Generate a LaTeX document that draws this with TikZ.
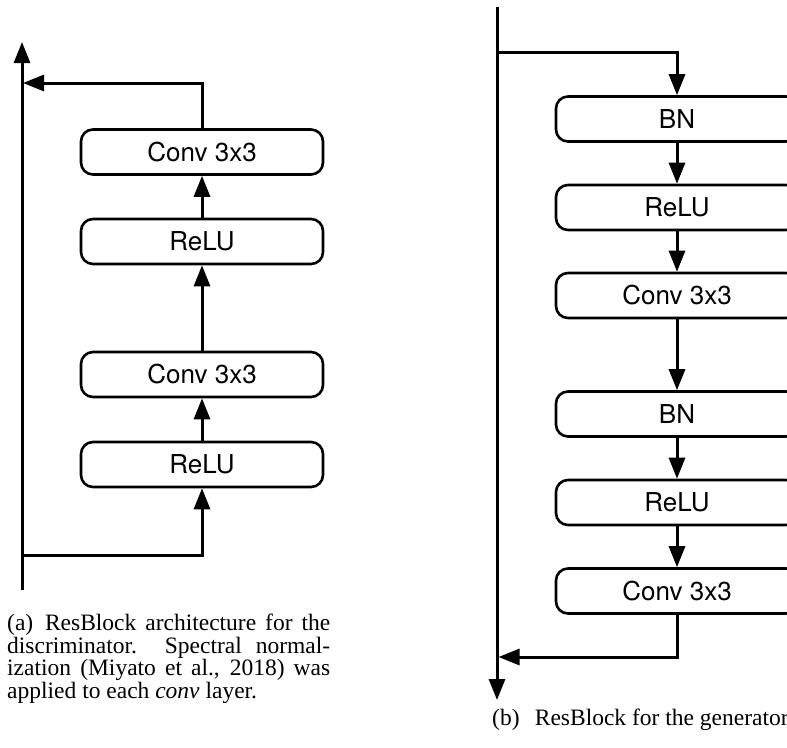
\documentclass[tikz,border=0pt]{standalone}
\usepackage{fontspec}
\setmainfont{Liberation Serif}
\newfontfamily\helv{TeX Gyre Heros}
\usetikzlibrary{arrows.meta,positioning}

\begin{document}
\begin{tikzpicture}[x=1pt,y=-1pt,
  layer/.style={draw,line width=2.6pt,rounded corners=12pt,minimum width=242pt,
    minimum height=45pt,inner sep=0pt,font=\helv\fontsize{26}{30}\selectfont},
  flow/.style={line width=3pt,-{Triangle[length=21pt,width=16pt]}},
  caption/.style={inner sep=0pt,font=\fontsize{23.5}{22.6}\selectfont}]

\useasboundingbox (0,0) rectangle (787,747);

% discriminator block
\begin{scope}
\def\dlayers{1/152/{Conv 3x3},2/241.5/{ReLU},3/374.5/{Conv 3x3},4/464.5/{ReLU}}
\foreach \i / \y / \element in \dlayers
  \node [layer] (d\i) at (202,\y) {\element};
\end{scope}

\coordinate (dtop) at (22,42);
\coordinate (dbot) at (22,590);
\coordinate (dskip) at (23,83);
\coordinate (dsplit) at (22,555);

\draw[flow] (dbot) -- (dtop);
\draw[flow] (dsplit) -| (d4.south);
\draw[flow] (d4.north) -- (d3.south);
\draw[flow] (d3.north) -- (d2.south);
\draw[flow] (d2.north) -- (d1.south);
\draw[flow] (d1.north) |- (dskip);

% generator block
\begin{scope}
\def\glayers{1/119/{BN},2/207.5/{ReLU},3/295.5/{Conv 3x3},4/414/{BN},5/502.5/{ReLU},6/591/{Conv 3x3}}
\foreach \i / \y / \element in \glayers
  \node [layer] (g\i) at (677,\y) {\element};
\end{scope}

\coordinate (gtop) at (497,7);
\coordinate (gbot) at (497,700);
\coordinate (gsplit) at (497,52);
\coordinate (gskip) at (498.5,657);

\draw[flow] (gtop) -- (gbot);
\draw[flow] (gsplit) -| (g1.north);
\draw[flow] (g1.south) -- (g2.north);
\draw[flow] (g2.south) -- (g3.north);
\draw[flow] (g3.south) -- (g4.north);
\draw[flow] (g4.south) -- (g5.north);
\draw[flow] (g5.south) -- (g6.north);
\draw[flow] (g6.south) |- (gskip);

% captions
\node[caption,text width=323pt,align=justify,anchor=north west] (acap) at (7,614)
  {(a)\hspace{0.5em}ResBlock architecture for the\linebreak discriminator.\ \ Spectral
   normal-\linebreak ization (Miyato et al., 2018) was\linebreak applied to each
   \textit{conv} layer.};
\node[caption,anchor=base west] (bcap) at (492,725)
  {(b)\hspace{0.65em}ResBlock for the generator};

\end{tikzpicture}
\end{document}
